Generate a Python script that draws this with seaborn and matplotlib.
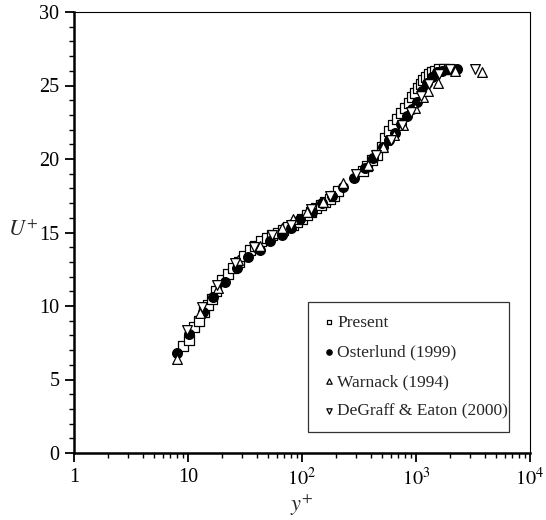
import numpy as np
import pandas as pd
import matplotlib
matplotlib.use("Agg")
import matplotlib.pyplot as plt
import seaborn as sns
from matplotlib.ticker import FixedLocator, NullFormatter, MultipleLocator

# ---- data ----
present_x = [9.0, 10.2, 11.3, 12.5, 13.8, 15.0, 16.3, 17.7, 20, 22.4, 25, 28, 31, 35, 39, 44, 49, 55,
             61, 68, 75, 83, 91, 100, 110, 121, 133, 146, 160, 175, 190, 207,
             340, 370, 410, 455, 500, 540, 580, 630, 680, 740, 800, 860, 920, 980, 1040,
             1100, 1160, 1230, 1300, 1380, 1480, 1600, 1750, 1950]
present_y = [7.3, 7.7, 8.6, 9.0, 9.6, 10.1, 10.5, 11.0, 11.8, 12.2, 12.6, 13.0, 13.4, 13.8, 14.1, 14.4, 14.6, 14.8,
             15.0, 15.2, 15.4, 15.5, 15.7, 15.9, 16.2, 16.4, 16.7, 16.9, 17.1, 17.3, 17.5, 17.8,
             19.2, 19.5, 19.9, 20.3, 20.8, 21.4, 21.9, 22.3, 22.7, 23.1, 23.5, 23.8, 24.2, 24.5, 24.8,
             25.1, 25.4, 25.6, 25.8, 25.9, 26.0, 26.1, 26.1, 26.1]

osterlund_x = [8.0, 10.3, 13.5, 16.6, 21, 27, 33.6, 42.6, 52, 66.5, 80, 96, 122, 150, 185, 228, 285,
               356, 419, 510, 580, 655, 740, 832, 920, 1016, 1120, 1240, 1380, 1520, 1700, 1950, 2290]
osterlund_y = [6.8, 8.1, 9.6, 10.6, 11.6, 12.6, 13.3, 13.8, 14.4, 14.8, 15.3, 15.9, 16.4, 17.0, 17.5, 18.1, 18.7,
               19.4, 20.1, 20.8, 21.3, 21.8, 22.4, 22.9, 23.4, 23.9, 24.6, 25.2, 25.6, 25.9, 26.0, 26.1, 26.1]

warnack_x = [8.0, 12.8, 18.4, 27.5, 42.6, 66.5, 83, 110, 153, 230, 380, 510, 640, 770, 980, 1150,
             1280, 1560, 2200, 3800]
warnack_y = [6.4, 9.5, 11.2, 13.1, 14.1, 15.3, 15.9, 16.4, 17.1, 18.4, 19.6, 20.8, 21.6, 22.3, 23.5, 24.2,
             24.6, 25.2, 26.0, 25.9]

degraff_x = [9.8, 13.3, 18, 26, 38, 55, 80, 120, 175, 300, 450, 600, 750, 900, 1100, 1300, 1600, 2000, 3300]
degraff_y = [8.4, 9.9, 11.4, 12.9, 14.0, 14.8, 15.5, 16.6, 17.5, 19.0, 20.3, 21.3, 22.3, 23.2, 24.3, 25.1,
             25.8, 26.1, 26.1]

labels = ["Present", "Osterlund (1999)", "Warnack (1994)", "DeGraff & Eaton (2000)"]
xtick_vals = [1, 10, 100, 1000, 10000]
xtick_labels = ["1", "10", r"$10^2$", r"$10^3$", r"$10^4$"]
ytick_vals = [0, 5, 10, 15, 20, 25, 30]

# ---- style ----
sns.set_theme(style="ticks")
plt.rcParams["font.family"] = ["Liberation Serif", "DejaVu Serif"]
plt.rcParams["mathtext.fontset"] = "stix"

fig = plt.figure(figsize=(5.46, 5.20), dpi=100)
ax = fig.add_axes([74 / 546, 67 / 520, 456 / 546, 441 / 520])

series = [
    (present_x, present_y, "s", "white", labels[0], 6.5),
    (osterlund_x, osterlund_y, "o", "black", labels[1], 7),
    (warnack_x, warnack_y, "^", "white", labels[2], 7),
    (degraff_x, degraff_y, "v", "white", labels[3], 7),
]
for xs, ys, m, fc, lab, ms in series:
    df = pd.DataFrame({"x": xs, "y": ys})
    sns.scatterplot(data=df, x="x", y="y", ax=ax, marker=m, s=ms ** 2,
                    facecolor=fc, edgecolor="black", linewidth=0.9, label=lab, zorder=3)

ax.set_xscale("log")
ax.set_xlim(1, 10000)
ax.set_ylim(0, 30)
ax.set_xticks(xtick_vals)
ax.set_xticklabels(xtick_labels)
ax.xaxis.set_minor_locator(FixedLocator([m * 10 ** e for e in range(0, 4) for m in range(2, 10)]))
ax.xaxis.set_minor_formatter(NullFormatter())
ax.set_yticks(ytick_vals)
ax.yaxis.set_minor_locator(MultipleLocator(1))

ax.tick_params(which="major", direction="out", length=6.5, width=1.3, labelsize=14.5, colors="black", pad=4)
ax.tick_params(which="minor", direction="out", length=3.5, width=1.0, colors="black")
ax.tick_params(top=False, right=False, which="both")

for side in ["left", "bottom"]:
    ax.spines[side].set_linewidth(1.8)
for side in ["top", "right"]:
    ax.spines[side].set_visible(True)
    ax.spines[side].set_linewidth(0.8)
for s in ax.spines.values():
    s.set_color("black")

ax.set_xlabel(r"$y^{+}$", fontsize=16, labelpad=2)
ax.set_ylabel(r"$U^{+}$", fontsize=16, rotation=0)
ax.yaxis.set_label_coords(-0.112, 0.48)

leg = ax.legend(loc="lower left", bbox_to_anchor=(0.513, 0.048, 0.44, 0.29), mode="expand",
                frameon=True, fancybox=False, edgecolor="black", fontsize=12.5,
                markerscale=0.55, handletextpad=0.0, handlelength=1.0, borderpad=0.7,
                labelspacing=0.78, borderaxespad=0)
leg.get_frame().set_linewidth(0.9)

fig.savefig("out.png", dpi=100)
